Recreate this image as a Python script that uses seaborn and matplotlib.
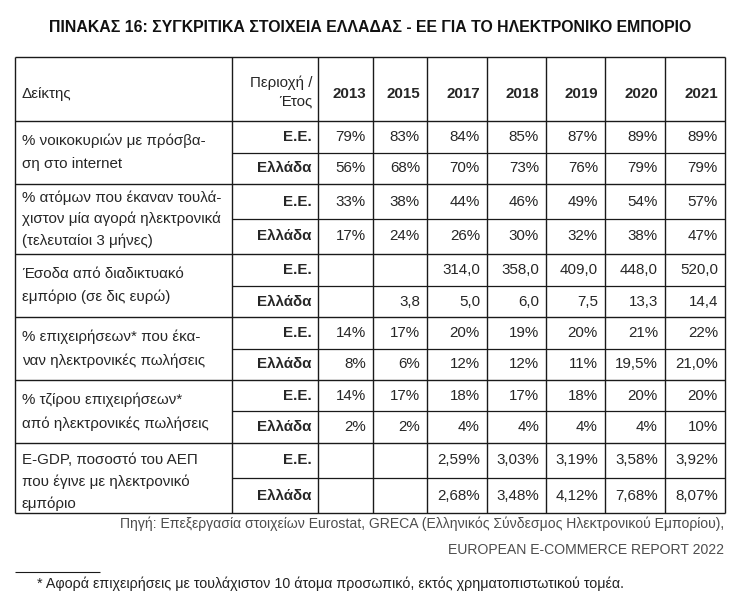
import matplotlib.pyplot as plt
import seaborn as sns

sns.set_style("white")
plt.rcParams['font.family'] = ['Liberation Sans', 'DejaVu Sans']
NARROW = ['Liberation Sans Narrow', 'Liberation Sans', 'DejaVu Sans']

# ---- data ----
title = "ΠΙΝΑΚΑΣ 16: ΣΥΓΚΡΙΤΙΚΑ ΣΤΟΙΧΕΙΑ ΕΛΛΑΔΑΣ - ΕΕ ΓΙΑ ΤΟ ΗΛΕΚΤΡΟΝΙΚΟ ΕΜΠΟΡΙΟ"
years = ["2013", "2015", "2017", "2018", "2019", "2020", "2021"]
regions = ["Ε.Ε.", "Ελλάδα"]
indicators = [
    "% νοικοκυριών με πρόσβα-\nση στο internet",
    "% ατόμων που έκαναν τουλά-\nχιστον μία αγορά ηλεκτρονικά\n(τελευταίοι 3 μήνες)",
    "Έσοδα από διαδικτυακό\nεμπόριο (σε δις ευρώ)",
    "% επιχειρήσεων* που έκα-\nναν ηλεκτρονικές πωλήσεις",
    "% τζίρου επιχειρήσεων*\nαπό ηλεκτρονικές πωλήσεις",
    "E-GDP, ποσοστό του ΑΕΠ\nπου έγινε με ηλεκτρονικό\nεμπόριο",
]

internet_ee = ["79%", "83%", "84%", "85%", "87%", "89%", "89%"]
internet_gr = ["56%", "68%", "70%", "73%", "76%", "79%", "79%"]
buyers_ee = ["33%", "38%", "44%", "46%", "49%", "54%", "57%"]
buyers_gr = ["17%", "24%", "26%", "30%", "32%", "38%", "47%"]
revenue_ee = ["", "", "314,0", "358,0", "409,0", "448,0", "520,0"]
revenue_gr = ["", "3,8", "5,0", "6,0", "7,5", "13,3", "14,4"]
firms_ee = ["14%", "17%", "20%", "19%", "20%", "21%", "22%"]
firms_gr = ["8%", "6%", "12%", "12%", "11%", "19,5%", "21,0%"]
turnover_ee = ["14%", "17%", "18%", "17%", "18%", "20%", "20%"]
turnover_gr = ["2%", "2%", "4%", "4%", "4%", "4%", "10%"]
egdp_ee = ["", "", "2,59%", "3,03%", "3,19%", "3,58%", "3,92%"]
egdp_gr = ["", "", "2,68%", "3,48%", "4,12%", "7,68%", "8,07%"]

rows = [
    (internet_ee, internet_gr),
    (buyers_ee, buyers_gr),
    (revenue_ee, revenue_gr),
    (firms_ee, firms_gr),
    (turnover_ee, turnover_gr),
    (egdp_ee, egdp_gr),
]

source = ("Πηγή: Επεξεργασία στοιχείων Eurostat, GRECA (Ελληνικός Σύνδεσμος Ηλεκτρονικού Εμπορίου),\n"
          "EUROPEAN E-COMMERCE REPORT 2022")
footnote = "* Αφορά επιχειρήσεις με τουλάχιστον 10 άτομα προσωπικό, εκτός χρηματοπιστωτικού τομέα."

# ---- layout (pixels) ----
col_edges = [15, 232, 318, 373, 427, 487, 546, 605, 665, 725]
header_top, header_bot = 57, 121
row_edges = [(121, 153, 184), (184, 219, 254), (254, 286, 317),
             (317, 349, 380), (380, 411, 443), (443, 478, 513)]
line_sp = [1.85, 1.6, 1.75, 1.85, 1.85, 1.65]
label_shift = [0, 0, 0, 0, 0, 4]
fs = 10.9
lc = '#1a1a1a'

fig = plt.figure(figsize=(7.39, 6.12), dpi=100)
ax = fig.add_axes([0, 0, 1, 1])
ax.set_xlim(0, 739)
ax.set_ylim(612, 0)
ax.axis('off')

ax.text(370, 28, title, ha='center', va='center', fontsize=11.4, fontweight='bold',
        family=NARROW, color='#111111')

# grid
table_bot = row_edges[-1][2]
ax.hlines([header_top, header_bot] + [r[2] for r in row_edges], col_edges[0], col_edges[-1],
          color=lc, lw=1.0)
ax.hlines([r[1] for r in row_edges], col_edges[1], col_edges[-1], color=lc, lw=0.9)
ax.vlines(col_edges, header_top, table_bot, color=lc, lw=1.0)

# header
hy = 94
ax.text(col_edges[0] + 7, hy, "Δείκτης", ha='left', va='center', fontsize=fs)
ax.text(col_edges[2] - 6, 92, "Περιοχή /\nΈτος", ha='right', va='center', fontsize=fs,
        linespacing=1.35)
for i, yr in enumerate(years):
    ax.text(col_edges[i + 3] - 7, hy, yr, ha='right', va='center', fontsize=fs,
            fontweight='bold')

# body
for k, (label, (ee, gr)) in enumerate(zip(indicators, rows)):
    top, mid, bot = row_edges[k]
    ax.text(col_edges[0] + 7, (top + bot) / 2 + label_shift[k], label, ha='left', va='center',
            fontsize=fs, linespacing=line_sp[k])
    for reg, sub, (y0, y1) in zip(regions, (ee, gr), ((top, mid), (mid, bot))):
        yc = (y0 + y1) / 2
        ax.text(col_edges[2] - 6, yc, reg, ha='right', va='center', fontsize=fs,
                fontweight='bold')
        for i, v in enumerate(sub):
            if v:
                ax.text(col_edges[i + 3] - 7, yc, v, ha='right', va='center', fontsize=fs)

ax.text(724, 537, source, ha='right', va='center', fontsize=10.1, family=NARROW,
        color='#4d4d4d', linespacing=2.05)
ax.hlines(572, 15, 100, color=lc, lw=0.8)
ax.text(37, 584, footnote, ha='left', va='center', fontsize=10.3, family=NARROW, color='#222222')

fig.savefig('out.png', dpi=100)
